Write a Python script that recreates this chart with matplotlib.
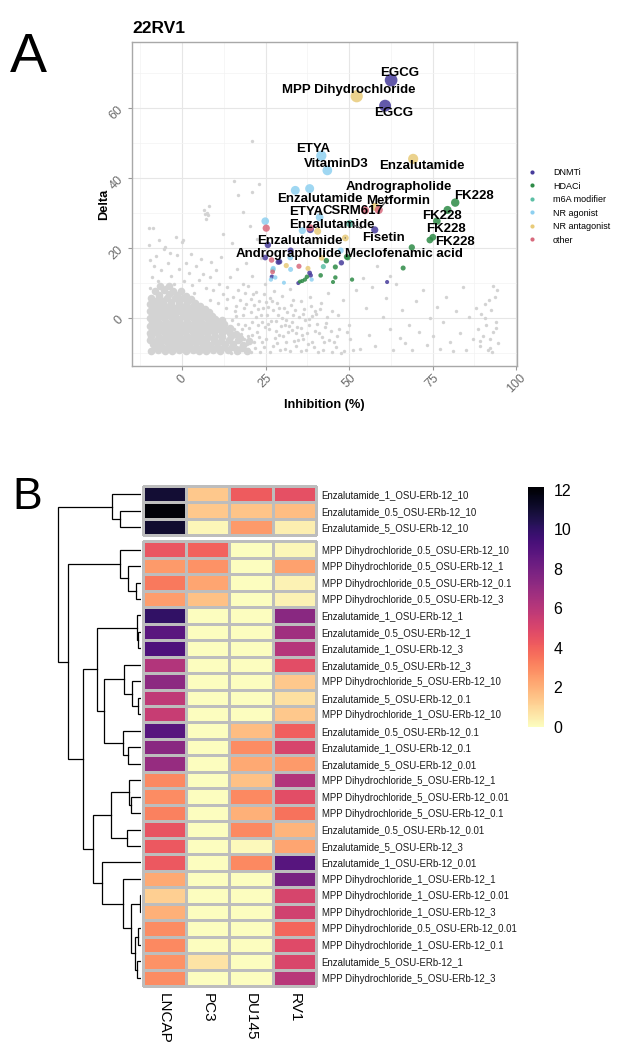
import numpy as np
import matplotlib
matplotlib.use("Agg")
import matplotlib.pyplot as plt
from matplotlib.colors import Normalize
from matplotlib.cm import ScalarMappable
from matplotlib.lines import Line2D

plt.rcParams["font.family"] = ["Liberation Sans", "DejaVu Sans"]

# ---------------- Panel A : 22RV1 screen ----------------
# dense core of the background cloud (inactive / untested compounds)
core_points = [
    (-9.3, -9.4), (-7.2, -9.2), (-5.1, -9.5), (-3.0, -9.3), (-1.0, -9.1), (1.1, -9.4), (3.2, -9.2),
    (5.2, -9.5), (7.3, -9.3), (9.4, -9.1), (11.5, -9.4), (13.8, -9.2), (16.4, -9.5), (19.5, -9.3),
    (-8.6, -7.3), (-6.5, -7.5), (-4.3, -7.2), (-2.2, -7.4), (-0.1, -7.6), (2.0, -7.3), (4.1, -7.1),
    (6.3, -7.4), (8.4, -7.6), (10.6, -7.2), (12.8, -7.5), (15.2, -7.3), (18.1, -7.7),
    (-9.2, -5.2), (-7.0, -5.4), (-4.9, -5.1), (-2.8, -5.3), (-0.7, -5.5), (1.4, -5.2), (3.5, -5.0),
    (5.6, -5.4), (7.7, -5.3), (9.9, -5.1), (12.1, -5.5), (14.6, -5.2), (17.3, -5.6),
    (-8.5, -3.1), (-6.4, -3.3), (-4.2, -3.0), (-2.1, -3.2), (0.0, -3.4), (2.1, -3.1), (4.3, -2.9),
    (6.4, -3.3), (8.6, -3.2), (10.8, -3.0), (13.2, -3.5),
    (-9.0, -1.1), (-6.9, -1.3), (-4.8, -1.0), (-2.6, -1.2), (-0.5, -1.4), (1.6, -1.1), (3.8, -0.9),
    (5.9, -1.3), (8.1, -1.2), (10.4, -1.5), (12.6, -1.8),
    (-8.4, 0.9), (-6.2, 1.1), (-4.1, 0.8), (-2.0, 1.0), (0.2, 1.2), (2.3, 0.9), (4.5, 0.7),
    (6.7, 1.0), (9.0, 0.6),
    (-8.8, 2.9), (-6.6, 3.1), (-4.5, 2.8), (-2.3, 3.0), (-0.1, 3.2), (2.1, 2.9), (4.4, 2.7), (6.8, 2.5),
    (-7.9, 4.8), (-5.6, 5.0), (-3.3, 4.7), (-1.0, 4.9), (1.4, 4.6), (3.9, 4.4),
    (-6.8, 6.6), (-4.0, 6.8), (-1.5, 6.5), (1.2, 6.3),
    (-8.2, -8.3), (-6.1, -8.4), (-4.0, -8.2), (-2.0, -8.3), (0.1, -8.5), (2.2, -8.2), (4.2, -8.3),
    (6.3, -8.4), (8.4, -8.2), (10.5, -8.3), (12.7, -8.4), (15.0, -8.2), (17.8, -8.5),
    (-9.6, -6.3), (-7.5, -6.4), (-5.4, -6.2), (-3.3, -6.3), (-1.2, -6.5), (0.9, -6.2), (3.1, -6.3),
    (5.2, -6.4), (7.3, -6.2), (9.5, -6.3), (11.7, -6.5), (14.0, -6.2), (16.8, -6.4), (19.9, -6.6),
    (-9.5, -4.2), (-7.4, -4.3), (-5.3, -4.1), (-3.2, -4.2), (-1.1, -4.4), (1.0, -4.1), (3.2, -4.0),
    (5.3, -4.3), (7.5, -4.2), (9.7, -4.1), (12.0, -4.4), (14.3, -4.2), (16.2, -4.5),
    (-9.6, -2.2), (-7.6, -2.3), (-5.4, -2.1), (-3.3, -2.2), (-1.2, -2.4), (0.9, -2.1), (3.0, -2.0),
    (5.2, -2.3), (7.4, -2.2), (9.6, -2.1), (11.9, -2.6), (14.4, -2.9),
    (-9.5, -0.1), (-7.5, -0.2), (-5.3, 0.0), (-3.1, -0.1), (-1.0, -0.3), (1.1, 0.0), (3.2, 0.1),
    (5.3, -0.2), (7.5, -0.1), (9.9, -0.4), (12.0, -0.6),
    (-9.6, 1.9), (-7.4, 2.0), (-5.3, 1.8), (-3.2, 1.9), (-1.0, 2.1), (1.2, 1.9), (3.4, 1.7),
    (5.6, 1.8), (8.0, 1.6),
    (-9.7, 3.9), (-7.5, 4.0), (-5.4, 3.8), (-3.2, 3.9), (-1.0, 4.0), (1.3, 3.8), (3.6, 3.6), (5.5, 3.5),
    (-9.3, 5.8), (-6.8, 5.9), (-4.4, 5.7), (-2.2, 5.8), (0.2, 5.6), (2.6, 5.4),
    (-8.0, 7.8), (-5.4, 7.9), (-2.8, 7.7), (-0.2, 7.6), (-6.5, 9.3), (-3.8, 9.2),
]

# scattered background compounds
bg_points = [
    (-9.6, 8.5), (-9.1, 11.8), (-8.4, 14.9), (-7.9, 17.6), (-7.1, 10.7), (-6.2, 13.6), (-5.4, 19.8),
    (-5.0, 8.9), (-4.1, 15.8), (-3.2, 12.1), (-2.3, 9.7), (-1.6, 17.9), (-0.8, 13.9), (0.1, 21.8),
    (0.6, 10.6), (1.3, 15.7), (2.2, 12.9), (3.1, 9.4), (4.2, 14.8), (5.1, 10.8), (6.2, 12.7),
    (7.1, 8.6), (8.3, 11.6), (9.2, 7.9), (10.1, 13.7), (11.2, 9.6), (12.3, 6.9), (13.4, 8.8),
    (14.2, 11.7), (-9.9, 25.6), (-8.7, 25.8), (-1.8, 23.1), (0.4, 22.2), (-5.1, 20.3), (-9.5, 16.5),
    (-9.8, 20.8), (-6.9, 22.4), (-3.5, 18.6), (2.8, 18.2), (5.7, 16.9), (8.8, 16.1), (11.6, 17.4),
    (-9.2, 5.6), (-2.9, 7.6), (3.6, 7.2), (8.4, 5.1), (10.9, 4.2), (13.1, 3.0), (15.8, 2.0),
    (6.6, 31.0), (7.1, 28.2), (7.6, 30.1), (8.1, 32.1), (7.9, 29.4), (6.9, 29.8),
    (15.6, 39.1), (16.7, 35.2), (21.0, 36.1), (23.0, 38.2), (21.0, 50.6), (18.3, 30.4), (20.2, 26.3),
    (12.4, 24.1), (14.8, 21.5), (17.6, 19.6), (22.4, 22.7), (19.1, 15.8), (23.6, 17.2), (16.3, 13.9),
    (20.8, 12.1), (18.2, 9.6), (24.9, 9.8), (22.1, 7.4),
    (15.2, 6.1), (16.0, 3.4), (16.8, -1.8), (17.3, 5.2), (18.1, 0.9), (18.4, -6.0), (19.2, 4.1),
    (19.6, -8.9), (20.1, -2.9), (20.5, 1.8), (21.2, 6.8), (21.4, -6.8), (22.0, 0.2), (22.3, -4.1),
    (23.1, 4.9), (23.4, -9.6), (24.0, -1.2), (24.2, 2.8), (25.1, -5.9), (25.3, 0.9), (26.0, -3.1),
    (26.4, 5.7), (27.1, -8.1), (27.3, 2.2), (28.0, -0.8), (28.4, 4.3), (29.1, -4.8), (29.3, -9.2),
    (30.0, 0.1), (30.4, 3.0), (31.1, -6.9), (31.3, 1.8), (32.0, -2.2), (32.4, -9.5), (33.1, 0.8),
    (33.3, 5.1), (34.0, -4.2), (34.2, -8.0), (35.0, 0.3), (36.1, -6.1), (36.4, 2.7), (37.0, -9.1),
    (38.1, -2.1), (39.0, -6.8), (40.1, 1.2), (41.0, -4.4), (42.1, -9.0), (43.0, -1.3), (44.1, -6.2),
    (45.0, 2.1), (46.2, -8.3), (47.1, -3.2),
    (15.5, -3.0), (16.5, -8.2), (17.5, -4.5), (18.8, -2.0), (19.8, -5.0), (20.9, -1.0), (21.8, -8.5),
    (22.7, 2.5), (23.8, -6.8), (24.7, -2.6), (25.8, 3.2), (26.7, -0.9), (27.8, -5.6), (28.7, 0.9),
    (29.7, -2.4), (30.8, -8.7), (31.7, -4.0), (32.8, -1.0), (33.7, 2.4), (34.8, -6.2), (35.7, -2.9),
    (36.8, -0.5), (37.7, -7.5), (38.8, 0.6), (39.7, -3.7), (40.8, -9.6), (42.6, -6.9), (44.8, -9.6),
    (46.8, 1.0), (48.6, -9.5), (50.2, -6.0), (51.1, -9.2),
    (18.9, 7.3), (20.7, 5.5), (24.5, 6.9), (27.6, 7.6), (29.9, 6.3), (32.2, 8.3), (35.5, 4.9),
    (38.4, 6.1), (41.5, 4.3), (43.8, 7.2),
    (13.5, 5.5), (14.8, -0.5), (16.2, 0.5), (17.0, -9.6), (18.5, 3.0), (19.5, -7.5), (20.5, -9.8),
    (21.5, 3.6), (22.6, -2.0), (23.5, 0.8), (24.4, -8.2), (25.6, -1.7), (26.2, -9.7), (27.0, 4.8),
    (28.2, -3.6), (29.0, 2.8), (30.2, -5.0), (31.0, -0.6), (32.6, 3.6), (33.6, -6.5), (34.5, -2.6),
    (35.6, -9.3), (36.2, 1.3), (37.4, -4.2), (38.6, 3.5), (39.4, -8.4), (40.4, -1.6), (41.2, 2.7),
    (42.0, -5.3), (43.3, 0.4), (44.5, -3.8), (45.6, -6.9), (47.6, -9.9), (49.4, -3.9), (16.8, 8.0),
    (19.8, 9.2), (13.8, -6.6), (14.6, -9.9), (18.0, -3.2), (21.0, -4.8), (23.0, -5.5), (25.0, 4.6),
    (28.5, -7.0), (30.7, -1.9), (33.0, -3.4), (35.9, -4.8), (37.9, -0.3), (39.8, 2.0), (42.7, -2.6),
    (46.4, -5.0),
    (48.3, 5.1), (50.1, -1.9), (52.0, 8.0), (53.2, -8.8), (55.1, 2.9), (56.0, -4.9), (57.0, 8.9),
    (57.9, -7.9), (60.1, 0.2), (61.0, 5.8), (62.2, -3.1), (63.1, -9.0), (64.0, 9.8), (65.2, -5.8),
    (66.0, 2.2), (68.1, -2.1), (69.0, -9.1), (70.2, 4.8), (71.1, -3.9), (72.0, 7.9), (73.2, -7.8),
    (74.1, 0.1), (75.0, -5.1), (76.2, 3.1), (77.1, -8.9), (78.0, -1.1), (79.1, 5.9), (80.2, -6.9),
    (82.0, 2.0), (83.1, -4.2), (84.2, 8.8), (85.1, -9.1), (86.0, 0.2), (87.2, -6.1), (88.1, 3.0),
    (88.6, -3.2), (89.1, -8.1), (89.6, 1.1), (90.1, -5.0), (90.6, 4.1), (91.1, -2.1), (91.6, -9.2),
    (92.1, -6.0), (92.6, 2.2), (93.1, -4.1), (93.6, 6.0), (94.1, -1.0), (94.6, -7.1), (94.2, 8.1),
    (93.2, 9.1), (92.2, -8.6), (58.4, 14.9), (62.3, 12.1), (54.2, 11.5), (66.8, -7.2), (81.0, -9.4),
    (90.8, 0.0), (91.9, 5.2), (93.9, -2.8), (89.3, -6.6), (92.8, -9.8),
]

# hit compounds by class: inhibition (%) and delta
dnmt_x = [62.6, 60.8, 57.7, 38.4, 25.7, 32.5, 24.9, 29.2, 47.7, 38.2, 26.9, 34.8, 61.4, 38.5, 28.8]
dnmt_y = [68.0, 60.7, 25.2, 25.3, 20.9, 19.3, 17.3, 16.1, 15.8, 12.9, 11.8, 10.0, 10.3, 12.2, 16.0]
hdac_x = [81.8, 79.5, 76.3, 75.1, 74.2, 68.8, 66.2, 43.2, 45.9, 49.6, 41.5, 45.9, 50.9, 45.2,
          36.0, 36.8, 37.4, 35.3, 49.3]
hdac_y = [33.0, 30.9, 27.7, 23.1, 22.3, 20.2, 14.3, 16.4, 14.6, 17.3, 12.2, 11.6, 11.0, 10.3,
          10.6, 11.0, 11.8, 10.4, 17.5]
m6a_x = [50.3, 42.3, 27.2]
m6a_y = [27.0, 14.7, 13.8]
nr_ag_x = [41.7, 43.5, 33.9, 38.2, 24.9, 36.0, 41.2, 47.5, 32.5, 27.3, 27.9, 30.5, 38.8, 32.4, 26.6]
nr_ag_y = [46.4, 42.2, 36.5, 37.0, 27.7, 25.0, 28.8, 19.3, 13.9, 14.2, 11.6, 10.1, 11.0, 17.3, 11.0]
nr_ant_x = [52.3, 69.2, 57.8, 40.6, 48.9, 31.2, 37.7, 41.8]
nr_ant_y = [63.4, 45.5, 31.8, 24.8, 22.9, 15.0, 14.2, 17.2]
other_x = [25.2, 38.3, 54.8, 58.9, 35.0, 27.1, 26.8]
other_y = [25.7, 25.8, 30.8, 30.9, 14.8, 13.2, 16.6]

group_names = ["DNMTi", "HDACi", "m6A modifier", "NR agonist", "NR antagonist", "other"]
group_colors = ["#473C9B", "#2E8B47", "#5CBFA5", "#8ED0F0", "#E8CB79", "#D86A7D"]

# labelled hits: point they name and where the text sits relative to it
label_text = ["EGCG", "MPP Dihydrochloride", "EGCG", "ETYA", "VitaminD3", "Enzalutamide",
              "Andrographolide", "FK228", "Enzalutamide", "Metformin", "ETYA", "CSRM617",
              "FK228", "Enzalutamide", "FK228", "Fisetin", "Enzalutamide", "FK228",
              "Andrographolide", "Meclofenamic acid"]
label_x = [62.6, 52.3, 60.8, 41.7, 43.5, 69.2, 58.9, 81.8, 41.2, 57.8, 36.0, 54.8,
           79.5, 40.6, 76.3, 50.3, 48.9, 75.1, 32.5, 68.8]
label_y = [68.0, 63.4, 60.7, 46.4, 42.2, 45.5, 30.9, 33.0, 28.8, 31.8, 25.0, 30.8,
           30.9, 24.8, 27.7, 27.0, 22.9, 23.1, 19.2, 20.2]
label_offsets = [(2.5, 2.1), (-2.5, 1.9), (2.5, -2.1), (-2.4, 1.9), (2.6, 1.9), (2.7, -2.1),
                 (5.9, 6.7), (5.5, 1.9), (0.2, 5.3), (6.8, 1.8), (1.2, 5.4), (-3.7, -0.2),
                 (-1.7, -1.7), (4.3, 1.8), (2.6, -2.2), (10.0, -4.0), (-13.7, -0.8), (6.6, -1.3),
                 (-0.6, -1.0), (-2.5, -2.0)]
label_segment = [False, False, False, False, False, False, True, False, True, False, False, False,
                 False, False, False, True, True, False, False, False]

# ---------------- Panel B : heatmap ----------------
row_names = [
    "Enzalutamide_1_OSU-ERb-12_10", "Enzalutamide_0.5_OSU-ERb-12_10", "Enzalutamide_5_OSU-ERb-12_10",
    "MPP Dihydrochloride_0.5_OSU-ERb-12_10", "MPP Dihydrochloride_0.5_OSU-ERb-12_1",
    "MPP Dihydrochloride_0.5_OSU-ERb-12_0.1", "MPP Dihydrochloride_0.5_OSU-ERb-12_3",
    "Enzalutamide_1_OSU-ERb-12_1", "Enzalutamide_0.5_OSU-ERb-12_1", "Enzalutamide_1_OSU-ERb-12_3",
    "Enzalutamide_0.5_OSU-ERb-12_3", "MPP Dihydrochloride_5_OSU-ERb-12_10",
    "Enzalutamide_5_OSU-ERb-12_0.1", "MPP Dihydrochloride_1_OSU-ERb-12_10",
    "Enzalutamide_0.5_OSU-ERb-12_0.1", "Enzalutamide_1_OSU-ERb-12_0.1", "Enzalutamide_5_OSU-ERb-12_0.01",
    "MPP Dihydrochloride_5_OSU-ERb-12_1", "MPP Dihydrochloride_5_OSU-ERb-12_0.01",
    "MPP Dihydrochloride_5_OSU-ERb-12_0.1", "Enzalutamide_0.5_OSU-ERb-12_0.01",
    "Enzalutamide_5_OSU-ERb-12_3", "Enzalutamide_1_OSU-ERb-12_0.01", "MPP Dihydrochloride_1_OSU-ERb-12_1",
    "MPP Dihydrochloride_1_OSU-ERb-12_0.01", "MPP Dihydrochloride_1_OSU-ERb-12_3",
    "MPP Dihydrochloride_0.5_OSU-ERb-12_0.01", "MPP Dihydrochloride_1_OSU-ERb-12_0.1",
    "Enzalutamide_5_OSU-ERb-12_1", "MPP Dihydrochloride_5_OSU-ERb-12_3",
]
cell_lines = ["LNCAP", "PC3", "DU145", "RV1"]
lncap = [11.0, 12.0, 11.1, 4.4, 2.6, 3.4, 2.5, 10.0, 8.8, 9.2, 6.2, 7.3, 5.8, 5.6, 8.9,
         7.4, 7.0, 3.0, 2.9, 3.2, 4.5, 4.3, 4.3, 2.2, 1.2, 2.0, 2.9, 3.0, 2.8, 2.9]
pc3 = [1.4, 1.4, 0.2, 4.0, 2.8, 2.3, 1.6, 0.0, 0.0, 0.0, 0.0, 0.0, 0.0, 0.0, 0.0,
       0.0, 0.0, 0.0, 0.0, 0.0, 0.0, 0.0, 0.0, 0.0, 0.0, 0.0, 0.0, 0.0, 0.7, 0.0]
du145 = [4.2, 1.5, 2.6, 0.0, 0.0, 0.0, 0.0, 0.0, 0.0, 0.0, 0.0, 0.0, 0.0, 0.0, 1.7,
         2.9, 2.2, 1.6, 3.0, 2.0, 3.0, 0.1, 3.0, 0.0, 0.0, 0.0, 0.0, 0.0, 0.0, 0.0]
rv1 = [4.6, 1.7, 0.4, 0.2, 2.4, 0.3, 0.3, 7.4, 6.7, 6.1, 4.7, 1.4, 0.8, 1.4, 4.1,
       5.1, 2.6, 6.2, 4.7, 3.6, 1.9, 2.3, 8.9, 7.9, 5.1, 5.3, 3.9, 4.8, 5.0, 6.0]

# row dendrogram as merges (child a, child b, height); new nodes are numbered from 30
row_merges = [(1, 2, 21.0), (0, 30, 29.3), (5, 6, 5.3), (4, 32, 12.7), (3, 33, 21.0),
              (8, 9, 2.7), (7, 35, 4.3), (12, 13, 2.7), (11, 37, 9.3), (10, 38, 17.0),
              (15, 16, 13.3), (14, 40, 17.7), (39, 41, 37.0), (36, 42, 44.5), (18, 19, 10.5),
              (17, 44, 11.7), (20, 21, 13.7), (45, 46, 30.0), (24, 25, 1.2), (26, 27, 2.7),
              (28, 29, 4.3), (49, 50, 6.0), (48, 51, 10.0), (23, 52, 18.3), (22, 53, 39.3),
              (47, 54, 47.7), (43, 55, 58.3), (34, 56, 72.7), (31, 57, 82.7)]
n_top_group = 3

W, H = 621, 1050
fig = plt.figure(figsize=(W / 100, H / 100), dpi=100)


def px_axes(left, top, right, bottom):
    return fig.add_axes([left / W, 1 - bottom / H, (right - left) / W, (bottom - top) / H])


def delta_size(d):
    # point area grows with delta (ggplot size scale)
    diam_px = 1.71 * np.sqrt(np.asarray(d)) - 1.4
    return (diam_px * 0.72) ** 2


# ----- panel A -----
ax = px_axes(132, 42, 517, 366)
ax.set_xlim(-15, 100.3)
ax.set_ylim(-13.7, 78.9)
ax.set_xticks([0, 25, 50, 75, 100])
ax.set_xticks([-12.5, 12.5, 37.5, 62.5, 87.5], minor=True)
ax.set_yticks([0, 20, 40, 60])
ax.set_yticks([-10, 10, 30, 50, 70], minor=True)
ax.grid(which="major", color="#E6E6E6", lw=0.8)
ax.grid(which="minor", color="#F3F3F3", lw=0.5)
ax.set_axisbelow(True)
ax.tick_params(which="major", length=3, color="#999999", labelsize=9, labelcolor="#6B6B6B",
               labelrotation=45, pad=1.5)
ax.tick_params(which="minor", length=0)
for s in ax.spines.values():
    s.set_color("#A8A8A8")
    s.set_linewidth(1.0)

cx, cy = zip(*core_points)
bgx, bgy = zip(*bg_points)
ax.scatter(cx, cy, s=30, color="#D3D3D3", linewidths=0, zorder=2)
ax.scatter(bgx, bgy, s=6, color="#D3D3D3", linewidths=0, zorder=2)

groups = [(dnmt_x, dnmt_y), (hdac_x, hdac_y), (m6a_x, m6a_y),
          (nr_ag_x, nr_ag_y), (nr_ant_x, nr_ant_y), (other_x, other_y)]
for (gx, gy), col in zip(groups, group_colors):
    ax.scatter(gx, gy, s=delta_size(gy), color=col, alpha=0.85, linewidths=0, zorder=3)

for txt, x, y, (dx, dy), seg in zip(label_text, label_x, label_y, label_offsets, label_segment):
    arrow = dict(arrowstyle="-", color="#555555", lw=0.9, shrinkA=1, shrinkB=2) if seg else None
    ax.annotate(txt, xy=(x, y), xytext=(x + dx, y + dy), ha="center", va="center",
                fontsize=9.5, fontweight="bold", color="black", arrowprops=arrow, zorder=4)

fig.text(324 / W, 1 - 408 / H, "Inhibition (%)", ha="center", va="baseline",
         fontsize=9.2, fontweight="bold")
fig.text(104 / W, 1 - 204 / H, "Delta", ha="center", va="center", rotation=90,
         fontsize=9.2, fontweight="bold")
fig.text(132 / W, 1 - 33 / H, "22RV1", ha="left", va="baseline", fontsize=12.5, fontweight="bold")
fig.text(10 / W, 1 - 72 / H, "A", ha="left", va="baseline", fontsize=40)

handles = [Line2D([], [], marker="o", ls="", color=c, markersize=3, markeredgewidth=0)
           for c in group_colors]
fig.legend(handles, group_names, loc="upper left", bbox_to_anchor=(525 / W, 1 - 168 / H),
           frameon=False, fontsize=6.5, handlelength=1.5, handletextpad=1.6,
           labelspacing=0.5, borderpad=0, borderaxespad=0)

# ----- panel B -----
gap = 0.36
n_rows = len(row_names)
vals = np.column_stack([lncap, pc3, du145, rv1])
norm = Normalize(vmin=0, vmax=12.15)
cmap = plt.get_cmap("magma_r")

axh = px_axes(142.5, 486, 316, 986)
xe = np.arange(len(cell_lines) + 1)
ye1 = np.arange(n_top_group + 1)
ye2 = np.arange(n_top_group, n_rows + 1) + gap
for ye, block in [(ye1, vals[:n_top_group]), (ye2, vals[n_top_group:])]:
    m = axh.pcolormesh(xe, ye, block, cmap=cmap, norm=norm, edgecolors="#BDBDBD", linewidth=0.8)
    m.set_clip_on(False)
axh.set_xlim(0, len(cell_lines))
axh.set_ylim(n_rows + gap, 0)
for s in axh.spines.values():
    s.set_visible(False)

row_center = [i + 0.5 + (gap if i >= n_top_group else 0) for i in range(n_rows)]
axh.yaxis.tick_right()
axh.set_yticks(row_center)
axh.set_yticklabels(row_names, fontsize=6.9, color="#1A1A1A")
axh.set_xticks(xe[:-1] + 0.5)
axh.set_xticklabels(cell_lines, rotation=270, fontsize=11)
axh.tick_params(axis="y", length=0, pad=4)
axh.tick_params(axis="x", length=0, pad=5)

# dendrogram
axd = px_axes(50, 486, 141, 986)
axd.set_ylim(n_rows + gap, 0)
axd.set_xlim(91, 0)
axd.axis("off")
node_y = {i: row_center[i] for i in range(n_rows)}
node_h = {i: 0.0 for i in range(n_rows)}
for k, (a, b, h) in enumerate(row_merges):
    axd.plot([node_h[a], h, h, node_h[b]], [node_y[a], node_y[a], node_y[b], node_y[b]],
             color="black", lw=0.9, solid_joinstyle="miter")
    node_y[n_rows + k] = (node_y[a] + node_y[b]) / 2
    node_h[n_rows + k] = h

# colour key
cax = px_axes(528, 487, 544, 727)
cb = fig.colorbar(ScalarMappable(norm=norm, cmap=cmap), cax=cax)
cb.outline.set_visible(False)
cb.set_ticks([0, 2, 4, 6, 8, 10, 12])
cax.tick_params(length=0, labelsize=11.5, pad=7)

fig.text(12 / W, 1 - 509 / H, "B", ha="left", va="baseline", fontsize=32)

fig.savefig("out.png", dpi=100)
